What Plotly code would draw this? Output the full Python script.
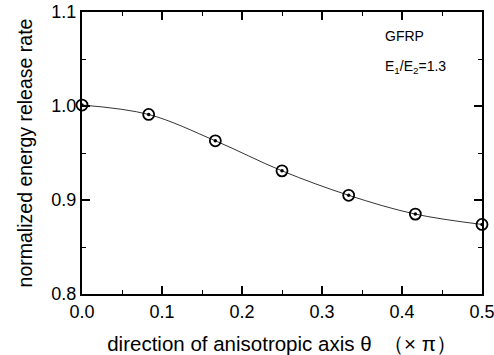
import plotly.graph_objects as go

theta = [0.0, 1/12, 2/12, 3/12, 4/12, 5/12, 6/12]
g_norm = [1.001, 0.991, 0.963, 0.931, 0.905, 0.885, 0.874]
x_ticks = [0.0, 0.1, 0.2, 0.3, 0.4, 0.5]
y_ticks = [0.8, 0.9, 1.0, 1.1]

fig = go.Figure()
fig.add_trace(go.Scatter(
    x=theta, y=g_norm, mode="lines+markers",
    line=dict(color="black", width=0.8, shape="spline", smoothing=1.0),
    marker=dict(symbol="circle-open", size=11, color="black",
                line=dict(color="black", width=1.8)),
    cliponaxis=False, showlegend=False))
fig.add_trace(go.Scatter(
    x=theta, y=g_norm, mode="markers",
    marker=dict(symbol="circle", size=3.5, color="black"),
    cliponaxis=False, showlegend=False))

font = "Liberation Sans, Arial, sans-serif"
fig.update_layout(
    width=494, height=355,
    margin=dict(l=82, r=12, t=12, b=61),
    paper_bgcolor="white", plot_bgcolor="white",
    font=dict(family=font, color="black", size=17),
    xaxis=dict(range=[0, 0.5], tickvals=x_ticks, ticktext=[f"{v:.1f}" for v in x_ticks],
               ticks="inside", ticklen=8, tickwidth=1.5, tickcolor="black",
               minor=dict(ticks="inside", dtick=0.05, ticklen=4, tickwidth=1.2, tickcolor="black"),
               showline=True, linecolor="black", linewidth=2, mirror="allticks",
               showgrid=False, zeroline=False, tickfont=dict(size=18), automargin=False,
               ticklabeloverflow="allow",
               title=dict(text="direction of anisotropic axis θ\u00a0\u00a0（×\u00a0π）",
                          font=dict(size=20.5), standoff=17)),
    yaxis=dict(range=[0.8, 1.1], tickvals=y_ticks, ticktext=[f"{v:.1f}" for v in y_ticks],
               ticks="inside", ticklen=8, tickwidth=1.5, tickcolor="black",
               minor=dict(ticks="inside", dtick=0.05, ticklen=4, tickwidth=1.2, tickcolor="black"),
               showline=True, linecolor="black", linewidth=2, mirror="allticks",
               showgrid=False, zeroline=False, tickfont=dict(size=18), ticklabelstandoff=0,
               automargin=False, ticklabeloverflow="allow",
               title=dict(text="normalized energy release rate", font=dict(size=19.5), standoff=14)),
    annotations=[
        dict(text="GFRP", xref="paper", yref="paper", x=0.752, y=0.915, xanchor="left", yanchor="middle",
             showarrow=False, font=dict(size=14)),
        dict(text="E<sub>1</sub>/E<sub>2</sub>=1.3", xref="paper", yref="paper", x=0.752, y=0.805,
             xanchor="left", yanchor="middle", showarrow=False, font=dict(size=14)),
    ],
)
fig.write_html("out.html")
